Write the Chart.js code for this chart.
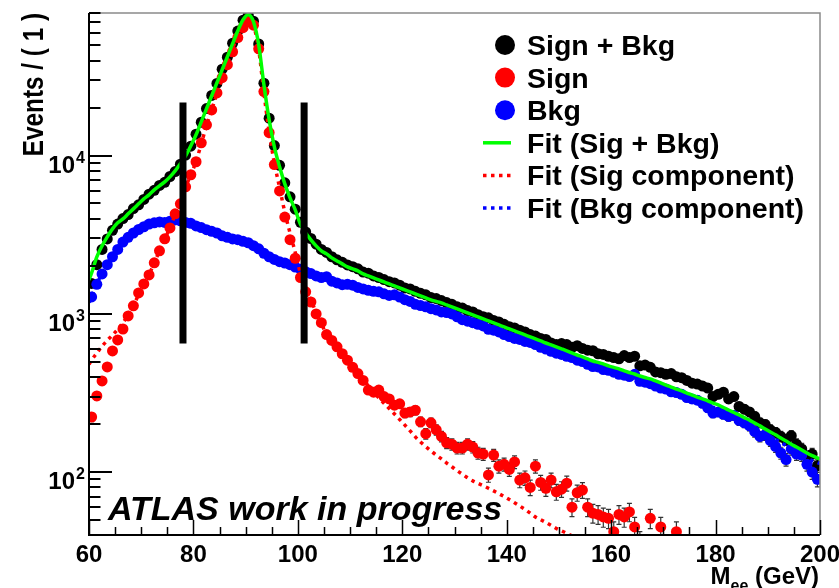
<!DOCTYPE html>
<html>
<head>
<meta charset="utf-8">
<title>Mee fit</title>
<script src="https://cdn.jsdelivr.net/npm/chart.js@4.4.1/dist/chart.umd.min.js"></script>
<style>
  html, body { margin: 0; padding: 0; background: #fff; }
  #massChart { display: block; }
</style>
</head>
<body>
<canvas id="massChart" width="839" height="588"></canvas>
<script>
// 1 GeV bins between 60 and 200 GeV
var massBins = [];
for (var m = 60.5; m < 200; m += 1) massBins.push(m);

// MC events per bin
var sigBkgEvents = [
  1560, 2050, 2560, 2980, 3380, 3700, 4010, 4250, 4640, 4900,
  5300, 5720, 6050, 6500, 6800, 7400, 7950, 8850, 10100, 11500,
  13700, 16300, 19900, 24100, 28700, 35300, 42000, 51500, 61500, 72000,
  77500, 71000, 51000, 28800, 17300, 11600, 8700, 6750, 5500, 4600,
  3800, 3300, 3000, 2760, 2560, 2450, 2300, 2200, 2120, 2040,
  1990, 1930, 1840, 1810, 1740, 1700, 1650, 1600, 1570, 1520,
  1460, 1440, 1390, 1350, 1320, 1270, 1250, 1215, 1180, 1150,
  1110, 1090, 1050, 1030, 990, 960, 945, 910, 890, 860,
  830, 815, 790, 770, 740, 725, 700, 690, 655, 640,
  650, 640, 615, 630, 605, 590, 585, 560, 555, 540,
  530, 520, 545, 530, 540, 470, 475, 460, 430, 425,
  415, 420, 400, 395, 380, 365, 360, 350, 340, 300,
  310, 320, 290, 300, 260, 250, 240, 225, 205, 200,
  185, 178, 168, 160, 170, 150, 140, 125, 130, 110
];
var sigEvents = [
  223, 303, 377, 462, 584, 685, 803, 971, 1125, 1358,
  1549, 1766, 2104, 2506, 2985, 3500, 4295, 4970, 6370, 7590,
  9170, 12090, 15700, 19500, 25000, 31200, 37700, 45500, 55900, 64600,
  70500, 67000, 47500, 25500, 14000, 8800, 6000, 4100, 2950, 2250,
  1700, 1380, 1190, 1000, 880, 740, 680, 620, 560, 510,
  460, 420, 380, 330, 320, 330, 300, 290, 265, 270,
  236, 240, 246, 208, 175, 205, 185, 168, 153, 150,
  142, 142, 150, 144, 132, 130, 96, 128, 109, 112,
  104, 116, 89, 92, 80, 109, 86, 79, 89, 75,
  78, 85, 60, 74, 77, 60, 55, 54, 52, 51,
  42, 54, 52, 56, 45, 36, 33, 51, 30, 45,
  28, 31, 42, 25, 26, 22, 24, 19, 21, 18,
  20, 17, 15, 19, 14, 16, 13, 15, 12, 14,
  11, 13, 10, 12, 9, 11, 10, 8, 9, 7
];
var bkgEvents = [
  1281, 1540, 1790, 2050, 2300, 2560, 2850, 3050, 3250, 3420,
  3560, 3700, 3770, 3820, 3790, 3860, 3930, 3880, 3790, 3740,
  3600, 3520, 3410, 3330, 3250, 3120, 3050, 2980, 2950, 2880,
  2820, 2700, 2580, 2420, 2300, 2210, 2140, 2100, 2050, 1980,
  1920, 1850, 1800, 1740, 1700, 1720, 1610, 1570, 1530, 1540,
  1520, 1470, 1440, 1410, 1390, 1380, 1340, 1310, 1320, 1280,
  1230, 1200, 1150, 1130, 1110, 1080, 1060, 1030, 1020, 1000,
  960, 920, 900, 880, 860, 840, 800, 790, 770, 740,
  720, 700, 690, 670, 660, 640, 615, 600, 580, 565,
  555, 540, 530, 510, 500, 480, 465, 462, 445, 440,
  428, 415, 410, 402, 415, 375, 370, 362, 350, 340,
  335, 322, 318, 310, 296, 290, 285, 272, 255, 236,
  240, 232, 225, 228, 212, 205, 196, 180, 168, 172,
  158, 145, 132, 120, 140, 130, 128, 112, 100, 90
];

// fit curves: range ends plus every bin centre
var fitMass = [60].concat(massBins, [200]);
var fitTotal = [1641,
  1817, 2295, 2694, 3072, 3452, 3767, 3993, 4296, 4618, 4970,
  5345, 5665, 6093, 6459, 6845, 7363, 8040, 8900, 10000, 11570,
  13580, 16410, 19840, 23970, 28980, 35020, 42320, 51150, 61810, 72570,
  78070, 70480, 50410, 28140, 16900, 11400, 8520, 6649, 5423, 4551,
  3688, 3253, 2940, 2694, 2505, 2397, 2262, 2165, 2073, 1984,
  1927, 1871, 1791, 1739, 1690, 1641, 1594, 1548, 1504, 1460,
  1419, 1378, 1338, 1300, 1262, 1226, 1200, 1174, 1140, 1107,
  1076, 1045, 1015, 986, 957, 930, 903, 877, 852, 828,
  804, 781, 759, 737, 716, 695, 675, 655, 637, 619,
  602, 585, 567, 550, 535, 519, 504, 494, 483, 469,
  459, 449, 436, 426, 417, 405, 396, 388, 377, 366,
  355, 345, 335, 326, 316, 307, 298, 290, 282, 273,
  266, 256, 247, 238, 230, 221, 213, 204, 196, 187,
  179, 172, 164, 157, 150, 144, 138, 132, 127, 123,
  121];
var fitSig = [480,
  512, 565, 625, 680, 735, 800, 880, 985, 1120, 1330,
  1540, 1770, 2110, 2500, 2980, 3500, 4250, 5000, 6300, 7600,
  9200, 11900, 15500, 19600, 24700, 31000, 38500, 47500, 58000, 68500,
  74000, 67000, 47000, 25000, 14200, 9000, 6300, 4400, 3250, 2450,
  1800, 1450, 1220, 1030, 880, 730, 660, 610, 560, 510,
  465, 420, 385, 350, 320, 295, 272, 252, 233, 215,
  198, 182, 167, 155, 145, 136, 128, 121, 114, 108,
  102, 97, 92, 88, 85, 82, 79, 76, 73, 70,
  67, 64, 61, 58, 55, 52, 50, 48, 46, 44,
  42.5, 41, 39.5, 38, 36.5, 35, 34, 33, 32, 31,
  30, 29, 28, 27, 26, 25, 24, 23, 22.5, 21.5,
  21, 20, 19.5, 19, 18, 17.5, 17, 16.5, 16, 15.5,
  15, 14.5, 14, 13.5, 13, 12.5, 12, 12, 11.5, 11,
  11, 10.5, 10, 10, 9.5, 9, 9, 8.5, 8.5, 8,
  8];
var fitBkg = [1180,
  1290, 1550, 1800, 2050, 2300, 2540, 2780, 3000, 3190, 3360,
  3500, 3620, 3710, 3780, 3820, 3840, 3840, 3820, 3780, 3720,
  3640, 3550, 3460, 3370, 3280, 3190, 3100, 3020, 2940, 2860,
  2780, 2690, 2590, 2480, 2380, 2280, 2200, 2120, 2050, 1980,
  1920, 1860, 1800, 1750, 1700, 1660, 1620, 1580, 1545, 1515,
  1490, 1460, 1435, 1410, 1385, 1360, 1335, 1310, 1285, 1260,
  1230, 1200, 1170, 1145, 1120, 1090, 1070, 1050, 1025, 1000,
  975, 950, 925, 900, 875, 850, 825, 800, 780, 760,
  740, 720, 700, 680, 662, 645, 627, 610, 592, 575,
  558, 542, 527, 512, 498, 484, 470, 461, 451, 438,
  429, 420, 408, 399, 391, 380, 372, 365, 354, 344,
  334, 325, 315, 307, 298, 289, 281, 273, 266, 257,
  251, 241, 233, 224, 217, 208, 201, 192, 184, 176,
  168, 161, 154, 147, 140, 135, 129, 123, 118, 115,
  113];

var massTicks = [60, 80, 100, 120, 140, 160, 180, 200];
var eventDecades = [100, 1000, 10000];
var windowEdges = [78, 101.2];
var windowSpan = [650, 21700];
var legendLabels = ["Sign + Bkg", "Sign", "Bkg", "Fit (Sig + Bkg)", "Fit (Sig component)", "Fit (Bkg component)"];

var FONT = '"Liberation Sans", Arial, Helvetica, sans-serif';

function xy(xs, ys) {
  return xs.map(function (x, i) { return { x: x, y: ys[i] }; });
}

function markers(label, values, color, order) {
  return {
    label: label, data: xy(massBins, values),
    backgroundColor: color, borderWidth: 0,
    pointRadius: 5.5, pointBorderWidth: 0,
    showLine: false, order: order, clip: 0
  };
}

function curve(label, values, color, dash, order) {
  return {
    label: label, data: xy(fitMass, values),
    showLine: true, borderColor: color, borderWidth: 3.5, borderDash: dash,
    cubicInterpolationMode: 'monotone',
    pointRadius: 0, order: order, clip: 0
  };
}

function windowLine(edge) {
  return {
    label: 'window', data: [{ x: edge, y: windowSpan[0] }, { x: edge, y: windowSpan[1] }],
    showLine: true, borderColor: '#000', borderWidth: 7,
    pointRadius: 0, order: -1, clip: 0
  };
}

// poisson error bars underneath the markers
var errorBars = {
  id: 'errorBars',
  beforeDatasetsDraw: function (chart) {
    var ctx = chart.ctx, a = chart.chartArea;
    var xs = chart.scales.x, ys = chart.scales.y;
    ctx.save();
    ctx.beginPath();
    ctx.rect(a.left, a.top, a.right - a.left, a.bottom - a.top);
    ctx.clip();
    ctx.strokeStyle = '#333';
    ctx.lineWidth = 1.2;
    [sigBkgEvents, sigEvents, bkgEvents].forEach(function (counts) {
      counts.forEach(function (n, i) {
        var err = Math.sqrt(n);
        var px = xs.getPixelForValue(massBins[i]);
        var top = ys.getPixelForValue(n + err);
        var bot = ys.getPixelForValue(Math.max(n - err, 1));
        ctx.beginPath();
        ctx.moveTo(px, top); ctx.lineTo(px, bot);
        ctx.moveTo(px - 2.5, top); ctx.lineTo(px + 2.5, top);
        ctx.moveTo(px - 2.5, bot); ctx.lineTo(px + 2.5, bot);
        ctx.stroke();
      });
    });
    ctx.restore();
  }
};

// ROOT style frame: inward ticks, labels, titles and legend
var rootFrame = {
  id: 'rootFrame',
  afterDatasetsDraw: function (chart) {
    var ctx = chart.ctx, a = chart.chartArea;
    var xs = chart.scales.x, ys = chart.scales.y;
    var i, k, v, p;
    ctx.save();

    ctx.strokeStyle = '#8a8a8a';
    ctx.lineWidth = 1.5;
    ctx.beginPath();
    ctx.moveTo(a.left, a.top); ctx.lineTo(a.right, a.top); ctx.lineTo(a.right, a.bottom);
    ctx.stroke();

    ctx.strokeStyle = '#000';
    ctx.lineWidth = 2;
    ctx.beginPath();
    ctx.moveTo(a.left, a.top); ctx.lineTo(a.left, a.bottom); ctx.lineTo(a.right, a.bottom);
    ctx.stroke();

    // y ticks, 1..9 per decade
    ctx.lineWidth = 2;
    ctx.beginPath();
    for (var d = 10; d <= 10000; d *= 10) {
      for (k = 1; k <= 9; k++) {
        v = k * d;
        if (v < ys.min || v > ys.max) continue;
        p = Math.round(ys.getPixelForValue(v));
        ctx.moveTo(a.left, p);
        ctx.lineTo(a.left + (k === 1 ? 23 : 11.5), p);
      }
    }
    ctx.stroke();

    // x ticks every 5 GeV
    ctx.lineWidth = 1.5;
    ctx.beginPath();
    for (v = 60; v <= 200; v += 5) {
      p = Math.round(xs.getPixelForValue(v)) + 0.5;
      ctx.moveTo(p, a.bottom);
      ctx.lineTo(p, a.bottom - (v % 20 === 0 ? 15 : 8));
    }
    ctx.stroke();

    ctx.fillStyle = '#000';
    ctx.textBaseline = 'alphabetic';

    // 10^n labels
    eventDecades.forEach(function (dv) {
      var py = ys.getPixelForValue(dv);
      ctx.font = 'bold 24px ' + FONT;
      ctx.textAlign = 'right';
      ctx.fillText('10', 75, py + 17);
      ctx.font = 'bold 16px ' + FONT;
      ctx.textAlign = 'left';
      ctx.fillText(String(Math.round(Math.log10(dv))), 76, py + 7);
    });

    ctx.font = 'bold 24px ' + FONT;
    ctx.textAlign = 'center';
    massTicks.forEach(function (t) {
      ctx.fillText(String(t), xs.getPixelForValue(t), 562);
    });

    // x title, right aligned with the axis end
    ctx.textAlign = 'left';
    ctx.font = 'bold 24px ' + FONT;
    var gev = ' (GeV)';
    var wGev = ctx.measureText(gev).width;
    var wM = ctx.measureText('M').width;
    ctx.font = 'bold 16px ' + FONT;
    var wEe = ctx.measureText('ee').width;
    var x0 = a.right - 1 - wGev - wEe - wM;
    ctx.font = 'bold 24px ' + FONT;
    ctx.fillText('M', x0, 584);
    ctx.fillText(gev, x0 + wM + wEe, 584);
    ctx.font = 'bold 16px ' + FONT;
    ctx.fillText('ee', x0 + wM, 591);

    // y title, rotated, right aligned with the axis top
    ctx.save();
    ctx.translate(43, a.top);
    ctx.rotate(-Math.PI / 2);
    ctx.scale(0.81, 1);
    ctx.font = 'bold 30px ' + FONT;
    ctx.textAlign = 'right';
    ctx.fillText('Events / ( 1 )', 0, 0);
    ctx.restore();

    ctx.font = 'italic bold 34px ' + FONT;
    ctx.textAlign = 'left';
    ctx.fillText('ATLAS work in progress', 108, 520);

    // legend
    var sets = chart.data.datasets;
    for (i = 0; i < legendLabels.length; i++) {
      var cy = 45 + i * 32.6;
      var ds = sets[i];
      if (i < 3) {
        ctx.fillStyle = ds.backgroundColor;
        ctx.beginPath();
        ctx.arc(505, cy, 10, 0, Math.PI * 2);
        ctx.fill();
      } else {
        ctx.strokeStyle = ds.borderColor;
        ctx.lineWidth = 3.5;
        ctx.setLineDash(ds.borderDash || []);
        ctx.beginPath();
        ctx.moveTo(483, cy); ctx.lineTo(511, cy);
        ctx.stroke();
        ctx.setLineDash([]);
      }
      ctx.fillStyle = '#000';
      ctx.font = 'bold 28.5px ' + FONT;
      ctx.fillText(legendLabels[i], 527, cy + 10);
    }
    ctx.restore();
  }
};

var ctxM = document.getElementById('massChart').getContext('2d');
var massChart = new Chart(ctxM, {
  type: 'scatter',
  data: {
    datasets: [
      markers(legendLabels[0], sigBkgEvents, '#000000', 6),
      markers(legendLabels[1], sigEvents, '#ff0000', 3),
      markers(legendLabels[2], bkgEvents, '#0000ff', 4),
      curve(legendLabels[3], fitTotal, '#00ff00', [], 1),
      curve(legendLabels[4], fitSig, '#ff0000', [3.5, 4.5], 2),
      curve(legendLabels[5], fitBkg, '#0000ff', [3.5, 4.5], 5),
      windowLine(windowEdges[0]),
      windowLine(windowEdges[1])
    ]
  },
  options: {
    responsive: false,
    devicePixelRatio: 1,
    animation: false,
    events: [],
    layout: { padding: { top: 13, right: 19, bottom: 0, left: 0 } },
    plugins: {
      legend: { display: false },
      tooltip: { enabled: false }
    },
    scales: {
      x: {
        type: 'linear', min: 60, max: 200,
        ticks: { display: false },
        grid: { display: false },
        border: { display: false },
        afterFit: function (s) { s.height = 53; }
      },
      y: {
        type: 'logarithmic', min: 40, max: 80000,
        ticks: { display: false },
        grid: { display: false },
        border: { display: false },
        afterFit: function (s) { s.width = 89; }
      }
    }
  },
  plugins: [errorBars, rootFrame]
});
</script>
</body>
</html>
